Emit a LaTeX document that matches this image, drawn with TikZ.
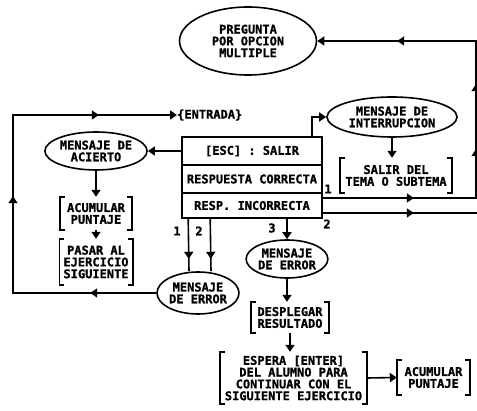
\documentclass[tikz,border=0pt]{standalone}
\usepackage{fontspec}
\setmainfont{DejaVu Sans Mono}[BoldFeatures={FakeBold=1.2}]
\usetikzlibrary{arrows.meta,shapes.geometric,decorations.markings,calc}

\tikzset{
  Tri/.tip={Triangle[width=9pt,length=7pt]},
  txt/.style={font=\fontsize{12}{11.8}\selectfont\bfseries, align=center, inner sep=0pt},
  oval/.style={txt, ellipse, draw, line width=1.6pt},
  row/.style={txt, draw, line width=1.6pt, minimum width=140pt},
  brk/.style={txt},
  wire/.style={line width=1.6pt, line join=miter},
  conn/.style={wire, -Tri},
  num/.style={font=\fontsize{12}{12}\selectfont\bfseries, inner sep=0pt},
}

\begin{document}
\begin{tikzpicture}[x=1pt,y=-1pt]
\useasboundingbox (0,0) rectangle (477,411);

% question ellipse
\node[oval, minimum width=137pt, minimum height=68pt] (preg) at (248,41) {PREGUNTA\\POR OPCION\\MULTIPLE};

% option box
\node[row, minimum height=28pt] (esc)  at (252,151)   {[ESC] : SALIR};
\node[row, minimum height=28pt] (corr) at (252,179)   {RESPUESTA CORRECTA};
\node[row, minimum height=25pt] (inc)  at (252,205.5) {RESP. INCORRECTA};

% interruption branch
\node[oval, minimum width=130pt, minimum height=40pt] (inter) at (392,117) {MENSAJE DE\\INTERRUPCION};
\node[brk, minimum width=112pt, minimum height=35pt] (salir) at (396,175.5) {SALIR DEL\\TEMA O SUBTEMA};

% correct answer branch
\node[oval, minimum width=102pt, minimum height=38pt] (acierto) at (96,151) {MENSAJE DE\\ACIERTO};
\node[brk, minimum width=72pt, minimum height=33pt] (acum1) at (96,213.5) {ACUMULAR\\PUNTAJE};
\node[brk, minimum width=73pt, minimum height=46pt] (pasar) at (96,262) {PASAR AL\\EJERCICIO\\SIGUIENTE};

% wrong answer branch
\node[oval, minimum width=82pt, minimum height=42pt] (err1) at (198,293) {MENSAJE\\DE ERROR};
\node[oval, minimum width=76pt, minimum height=38pt] (err2) at (287,259) {MENSAJE\\DE ERROR};
\node[brk, minimum width=78pt, minimum height=31pt] (despl) at (290,317.5) {DESPLEGAR\\RESULTADO};
\node[brk, minimum width=147pt, minimum height=52pt] (espera) at (293.5,378) {ESPERA [ENTER]\\DEL ALUMNO PARA\\CONTINUAR CON EL\\SIGUIENTE EJERCICIO};
\node[brk, minimum width=73pt, minimum height=35pt] (acum2) at (433.5,377.5) {ACUMULAR\\PUNTAJE};

\node[txt, anchor=west] (entrada) at (177,115) {\{ENTRADA\}};

% square brackets round the action nodes
\foreach \n in {salir,acum1,pasar,despl,espera,acum2}{
  \draw[wire] ([xshift=5pt]\n.north west) -- (\n.north west) -- (\n.south west) -- ([xshift=5pt]\n.south west);
  \draw[wire] ([xshift=-5pt]\n.north east) -- (\n.north east) -- (\n.south east) -- ([xshift=-5pt]\n.south east);
}

% free ends and corners
\coordinate (rtop) at (476,41);
\coordinate (out2) at (477,213);
\coordinate (lc)   at (13,115);

% connectors
\draw[conn] ($(esc.north)+(60,0)$) |- (inter.west);
\draw[conn] (inter.south) -- (inter.south |- salir.north);
\draw[conn] (esc.west) -- (acierto.east);
\draw[conn] (acierto.south) -- (acierto.south |- acum1.north);
\draw[conn] (acum1.south) -- (acum1.south |- pasar.north);

\draw[wire, postaction=decorate, decoration={markings, mark=at position 40pt with {\arrow{Tri}}}]
  ($(inc.south west)+(7,0)$) -- ($(err1.north)+(-9,0)$);
\draw[wire, postaction=decorate, decoration={markings, mark=at position 40pt with {\arrow{Tri}}}]
  ($(inc.south west)+(29,0)$) -- ($(err1.north)+(13,0)$);
\draw[conn] ($(inc.south)+(35,0)$) -- (err2.north);
\draw[conn] (err2.south) -- (err2.south |- despl.north);
\draw[conn] (despl.south) -- (despl.south |- espera.north);
\draw[conn] (espera.east) -- (acum2.west);

% return to the question
\draw[conn, postaction=decorate, decoration={markings,
    mark=at position 91pt with {\arrow{Tri}},
    mark=at position 202pt with {\arrow{Tri}},
    mark=at position 267pt with {\arrow{Tri}},
    mark=at position 389pt with {\arrow{Tri}}}]
  ($(inc.east)+(0,-7.5)$) -| (rtop) -- (preg.east);
\draw[wire, postaction=decorate, decoration={markings, mark=at position 91pt with {\arrow{Tri}}}]
  ($(inc.east)+(0,7.5)$) -- (out2);

% loop back to the input
\draw[conn, postaction=decorate, decoration={markings,
    mark=at position 66pt with {\arrow{Tri}},
    mark=at position 240pt with {\arrow{Tri}},
    mark=at position 407pt with {\arrow{Tri}}}]
  (err1.west) -| (lc) -- (entrada.west);

% path numbers
\node[num] (n1a) at (177,231) {1};
\node[num] (n2a) at (199,231) {2};
\node[num] (n3)  at (272,228) {3};
\node[num] (n1b) at (328,189) {1};
\node[num] (n2b) at (327,224) {2};
\end{tikzpicture}
\end{document}
